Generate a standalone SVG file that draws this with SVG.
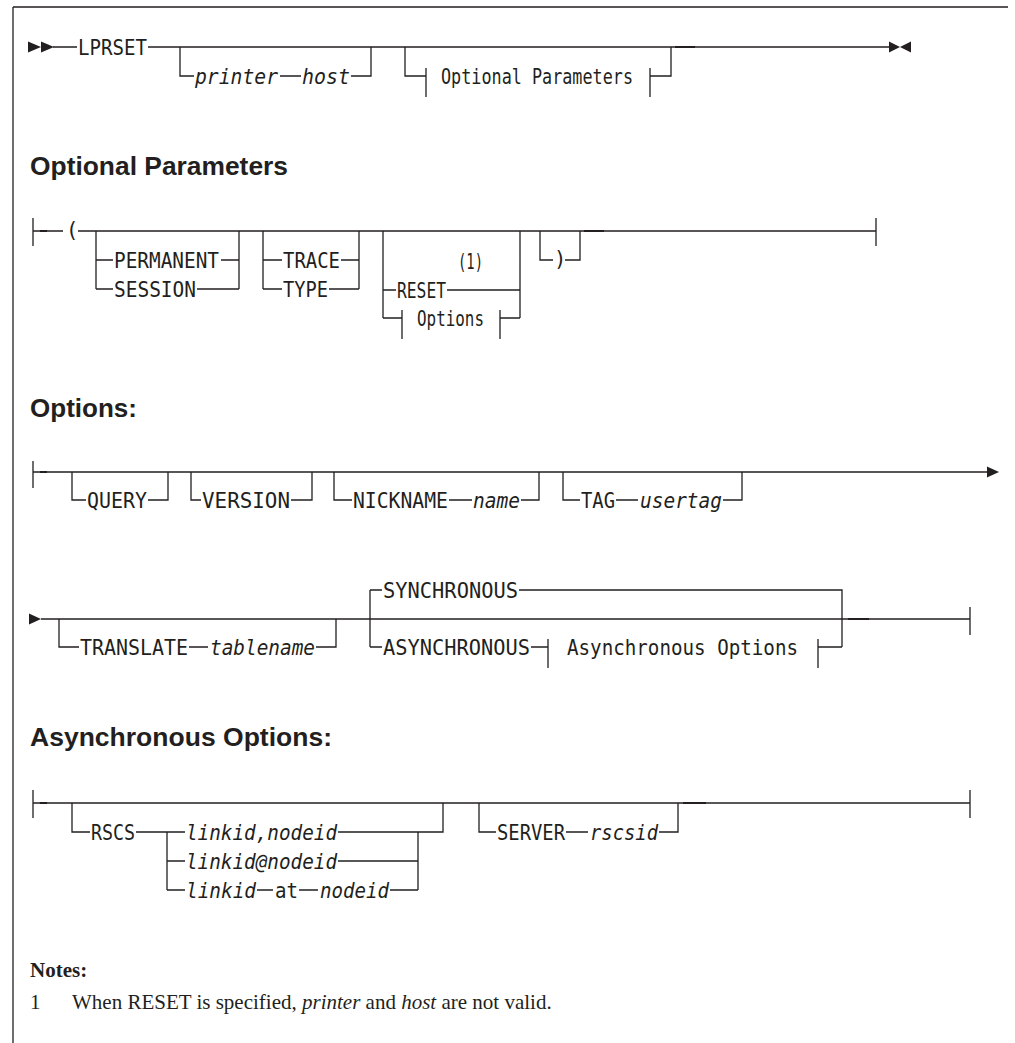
<svg xmlns="http://www.w3.org/2000/svg" width="1015" height="1043" viewBox="0 0 1015 1043">
<style>
.k{font-family:"DejaVu Sans Mono","Liberation Mono",monospace;font-size:20.5px;fill:#231f20}
.v{font-style:italic}
.h{font-family:"Liberation Sans",Arial,sans-serif;font-weight:bold;font-size:26px;fill:#231f20}
.n{font-family:"Liberation Serif","Times New Roman",serif;font-size:21px;fill:#231f20}
.c{fill:none;stroke:#231f20;stroke-width:1.3}
.t{fill:none;stroke:#231f20;stroke-width:2}
.a{fill:#231f20}
</style>
<rect x="0" y="0" width="1015" height="1043" fill="#ffffff"/>
<g id="frame"><path class="c" d="M13,7 H1008 M13,7 V1043"/></g>
<g id="connectors">
<polygon class="a" points="28,41.5 41,47 28,52.5"/>
<polygon class="a" points="41,41.5 54,47 41,52.5"/>
<path class="c" d="M53,47 H77 M148,47 H890 M180,47 V76 H194 M280,76 H301 M351,76 H371 V47 M405,47 V76 H426 M426,68 V97 M650,68 V97 M650,76 H671 V47"/>
<path class="t" d="M675,47 H695"/>
<polygon class="a" points="889,41.5 900,47 889,52.5"/>
<polygon class="a" points="911,41.5 900,47 911,52.5"/>
<path class="c" d="M33,218 V246 M33,231 H63 M78,231 H876 M876,218 V246 M96,231 V289 M96,260 H113 M221,260 H239 M96,289 H113 M197,289 H239 M239,231 V289 M263,231 V289 M263,260 H282 M341,260 H359 M263,289 H282 M329,289 H359 M359,231 V289 M383,231 V318 M383,290 H396 M447,290 H520 M383,318 H402 M402,310 V339 M500,310 V339 M500,318 H520 M520,231 V318 M540,231 V260 H553 M565,260 H580 V231"/>
<path class="t" d="M40,231 H47 M584,231 H604"/>
<path class="c" d="M33,461 V488 M33,472 H988 M72,472 V500 H86 M148,500 H168 V472 M191,472 V500 H201 M291,500 H312 V472 M334,472 V500 H352 M449,500 H472 M521,500 H539 V472 M563,472 V500 H580 M616,500 H638 M723,500 H742 V472"/>
<path class="t" d="M40,472 H47"/>
<polygon class="a" points="987,466.5 999,472 987,477.5"/>
<polygon class="a" points="29,613.5 41,619 29,624.5"/>
<path class="c" d="M41,619 H970 M970,607 V635 M59,619 V647 H79 M189,647 H208 M316,647 H336 V619 M370,590 V647 M370,590 H382 M519,590 H842 V647 M370,647 H382 M531,647 H548 M548,639 V668 M818,639 V668 M818,647 H842"/>
<path class="t" d="M848,619 H869"/>
<path class="c" d="M33,790 V818 M33,803 H970 M970,790 V818 M72,803 V832 H90 M136,832 H185 M167,832 V890 M167,861 H185 M167,890 H185 M338,832 H443 V803 M338,861 H418 M418,832 V890 M257,890 H273 M299,890 H318 M390,890 H418 M479,803 V832 H496 M566,832 H588 M659,832 H678 V803"/>
<path class="t" d="M40,803 H47 M683,803 H706"/>
</g>
<g id="lprset"><text class="k" x="78" y="54.5" textLength="69" lengthAdjust="spacingAndGlyphs">LPRSET</text></g>
<g id="printer-host"><text class="k v" x="195" y="83.5" textLength="83" lengthAdjust="spacingAndGlyphs">printer</text><text class="k v" x="302" y="83.5" textLength="48" lengthAdjust="spacingAndGlyphs">host</text></g>
<g id="optional-parameters-ref"><text class="k" x="441" y="83.5" textLength="192" lengthAdjust="spacingAndGlyphs">Optional Parameters</text></g>
<g id="heading-optional"><text class="h" x="30" y="175" textLength="258" lengthAdjust="spacingAndGlyphs">Optional  Parameters</text></g>
<g id="lparen"><text class="k" x="66" y="237">(</text></g>
<g id="permanent"><text class="k" x="114" y="267.5" textLength="105" lengthAdjust="spacingAndGlyphs">PERMANENT</text></g>
<g id="session"><text class="k" x="114" y="296.5" textLength="82" lengthAdjust="spacingAndGlyphs">SESSION</text></g>
<g id="trace"><text class="k" x="283" y="267.5" textLength="57" lengthAdjust="spacingAndGlyphs">TRACE</text></g>
<g id="type"><text class="k" x="283" y="296.5" textLength="45" lengthAdjust="spacingAndGlyphs">TYPE</text></g>
<g id="reset"><text class="k" x="458" y="269" textLength="25" lengthAdjust="spacingAndGlyphs">(1)</text><text class="k" x="397" y="297.5" textLength="49" lengthAdjust="spacingAndGlyphs">RESET</text></g>
<g id="options-ref"><text class="k" x="417" y="325.5" textLength="67" lengthAdjust="spacingAndGlyphs">Options</text></g>
<g id="rparen"><text class="k" x="554" y="266">)</text></g>
<g id="heading-options"><text class="h" x="30" y="417" textLength="107" lengthAdjust="spacingAndGlyphs">Options:</text></g>
<g id="query"><text class="k" x="87" y="507.5" textLength="60" lengthAdjust="spacingAndGlyphs">QUERY</text></g>
<g id="version"><text class="k" x="202" y="507.5" textLength="88" lengthAdjust="spacingAndGlyphs">VERSION</text></g>
<g id="nickname"><text class="k" x="353" y="507.5" textLength="95" lengthAdjust="spacingAndGlyphs">NICKNAME</text><text class="k v" x="473" y="507.5" textLength="47" lengthAdjust="spacingAndGlyphs">name</text></g>
<g id="tag"><text class="k" x="581" y="507.5" textLength="34" lengthAdjust="spacingAndGlyphs">TAG</text><text class="k v" x="640" y="507.5" textLength="82" lengthAdjust="spacingAndGlyphs">usertag</text></g>
<g id="translate"><text class="k" x="80" y="654.5" textLength="108" lengthAdjust="spacingAndGlyphs">TRANSLATE</text><text class="k v" x="210" y="654.5" textLength="105" lengthAdjust="spacingAndGlyphs">tablename</text></g>
<g id="synchronous"><text class="k" x="383" y="597.5" textLength="135" lengthAdjust="spacingAndGlyphs">SYNCHRONOUS</text></g>
<g id="asynchronous"><text class="k" x="383" y="654.5" textLength="147" lengthAdjust="spacingAndGlyphs">ASYNCHRONOUS</text></g>
<g id="async-options-ref"><text class="k" x="567" y="654.5" textLength="231" lengthAdjust="spacingAndGlyphs">Asynchronous Options</text></g>
<g id="heading-async"><text class="h" x="30" y="746" textLength="302" lengthAdjust="spacingAndGlyphs">Asynchronous Options:</text></g>
<g id="rscs"><text class="k" x="91" y="839.5" textLength="44" lengthAdjust="spacingAndGlyphs">RSCS</text></g>
<g id="linkid-comma"><text class="k v" x="186" y="839.5" textLength="151" lengthAdjust="spacingAndGlyphs">linkid,nodeid</text></g>
<g id="linkid-at-sign"><text class="k v" x="186" y="868.5" textLength="151" lengthAdjust="spacingAndGlyphs">linkid@nodeid</text></g>
<g id="linkid-at"><text class="k v" x="186" y="897.5" textLength="70" lengthAdjust="spacingAndGlyphs">linkid</text><text class="k" x="275" y="897.5" textLength="23" lengthAdjust="spacingAndGlyphs">at</text><text class="k v" x="320" y="897.5" textLength="69" lengthAdjust="spacingAndGlyphs">nodeid</text></g>
<g id="server"><text class="k" x="497" y="839.5" textLength="68" lengthAdjust="spacingAndGlyphs">SERVER</text><text class="k v" x="590" y="839.5" textLength="68" lengthAdjust="spacingAndGlyphs">rscsid</text></g>
<g id="notes">
<text class="n" x="30" y="977" font-weight="bold">Notes:</text>
<text class="n" x="30" y="1009">1</text>
<text class="n" x="72" y="1009">When RESET is specified, <tspan font-style="italic">printer</tspan> and <tspan font-style="italic">host</tspan> are not valid.</text>
</g>
</svg>
